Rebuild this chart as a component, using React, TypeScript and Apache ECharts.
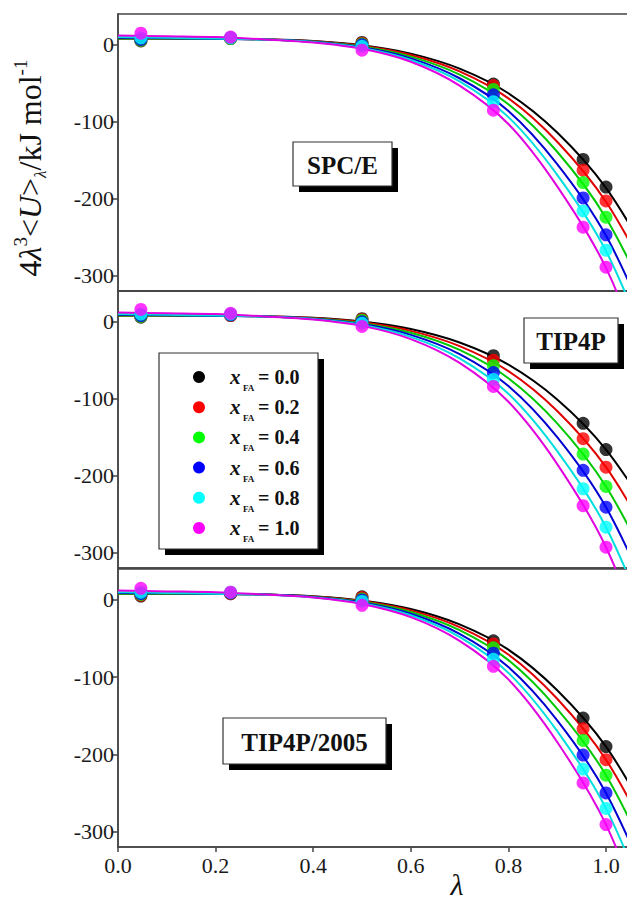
import React, { useEffect, useRef } from "react";
import * as echarts from "echarts";

const lambdaPts = [0.04691, 0.23077, 0.5, 0.76923, 0.95309, 1.0];
const lambdaFit = [0, 0.1, 0.2, 0.3, 0.4, 0.5, 0.6, 0.7, 0.8, 0.9, 1.0, 1.1];
const xTicks = [0, 0.2, 0.4, 0.6, 0.8, 1.0];
const yTicks = [-300, -200, -100, 0];
const fractions = ["0.0", "0.2", "0.4", "0.6", "0.8", "1.0"];
const panelNames = ["SPC/E", "TIP4P", "TIP4P/2005"];

const pointColors = ["#000000", "#ff0000", "#00ff00", "#0000ff", "#00ffff", "#ff00ff"];
const lineColors = ["#000000", "#e00000", "#00c800", "#0000d0", "#00dede", "#e000e0"];

// SPC/E
const spcePts = [
  [5, 8, 3, -51, -149, -185],
  [6, 8, 2, -53, -163, -203],
  [6, 8, 1, -58, -179, -224],
  [7, 9, 0, -65, -199, -247],
  [9, 9, -2, -74, -216, -267],
  [15, 10, -7, -85, -237, -289],
];
const spceFit = [
  [8, 8, 7.9, 7.1, 4.9, -0.6, -11.5, -31, -63, -114, -186, -290],
  [8, 8, 7.8, 7.1, 4.6, -1.4, -13.3, -34.6, -69.6, -126, -204, -317],
  [8, 8, 7.8, 7.0, 4.2, -2.3, -15.4, -38.8, -77.3, -139, -225, -350],
  [9, 8.5, 7.8, 6.9, 3.9, -3.3, -17.7, -43.5, -86, -155, -248, -385],
  [10, 9, 8, 6.8, 3.5, -4.2, -19.7, -47.5, -94, -169, -268, -416],
  [12, 11, 10, 7, 3, -5.2, -22, -53, -103, -184, -290, -449],
];

// TIP4P
const tip4pPts = [
  [6, 8, 4, -44, -132, -166],
  [7, 8, 3, -50, -152, -189],
  [7, 9, 2, -57, -172, -214],
  [8, 9, 0, -66, -193, -241],
  [10, 10, -2, -75, -217, -267],
  [16, 11, -6, -84, -239, -293],
];
const tip4pFit = [
  [8, 8, 7.9, 7.2, 5.2, 0.3, -9.5, -27, -55.7, -101, -166, -259],
  [8, 8, 7.9, 7.1, 4.8, -0.7, -11.8, -31.6, -64.1, -116, -189, -294],
  [8, 8, 7.8, 7.0, 4.4, -1.8, -14.3, -36.6, -73.3, -132, -214, -333],
  [9, 8.5, 7.8, 6.9, 4.0, -3.0, -17, -42, -83.5, -150, -241, -374],
  [10, 9, 8, 6.8, 3.5, -4.2, -19.6, -47.5, -93.5, -168, -267, -414],
  [12, 11, 10, 7, 3, -5.3, -22.5, -53.5, -104, -185, -293, -454],
];

// TIP4P/2005
const tip4p2005Pts = [
  [5, 8, 4, -53, -153, -190],
  [6, 8, 3, -57, -167, -207],
  [7, 9, 1, -62, -182, -227],
  [8, 9, 0, -69, -201, -250],
  [10, 10, -2, -77, -219, -270],
  [15, 10, -7, -86, -237, -291],
];
const tip4p2005Fit = [
  [8, 8, 7.9, 7.1, 4.8, -0.8, -11.9, -31.8, -64.5, -117, -190, -296],
  [8, 8, 7.8, 7.0, 4.5, -1.5, -13.6, -35.2, -70.7, -128, -207, -322],
  [8, 8, 7.8, 7.0, 4.2, -2.4, -15.6, -39.2, -78, -141, -227, -353],
  [9, 8.5, 7.8, 6.9, 3.8, -3.4, -17.9, -43.9, -87, -156, -250, -388],
  [10, 9, 8, 6.8, 3.5, -4.3, -19.9, -48, -94.5, -170, -270, -419],
  [12, 11, 10, 7, 3.2, -5.2, -22.3, -53, -103, -184, -291, -451],
];

const panelPts = [spcePts, tip4pPts, tip4p2005Pts];
const panelFit = [spceFit, tip4pFit, tip4p2005Fit];

const FONT = "Liberation Serif";
const AXIS_COLOR = "#444";

export default function App() {
  const ref = useRef<HTMLDivElement>(null);

  useEffect(() => {
    if (!ref.current) return;
    const chart = echarts.init(ref.current, null, { renderer: "svg" });

    const grids = [
      { left: 118, width: 536.8, top: 14, height: 277 },
      { left: 118, width: 536.8, top: 291, height: 277 },
      { left: 118, width: 536.8, top: 569, height: 278 },
    ].map((g) => ({ ...g, show: true, borderColor: AXIS_COLOR, borderWidth: 1.5 }));

    const xAxes = [0, 1, 2].map((i) => ({
      type: "value",
      gridIndex: i,
      min: 0,
      max: 1.1,
      axisLine: { show: true, onZero: false, lineStyle: { color: AXIS_COLOR, width: 1.5 } },
      axisTick: {
        show: i === 2,
        length: 5,
        customValues: xTicks,
        lineStyle: { color: AXIS_COLOR, width: 1.5 },
      },
      axisLabel: {
        show: i === 2,
        customValues: xTicks,
        formatter: (v: number) => v.toFixed(1),
        fontFamily: FONT,
        fontSize: 22,
        color: "#1a1a1a",
        margin: 7,
      },
      splitLine: { show: false },
    }));

    const yAxes = [0, 1, 2].map((i) => ({
      type: "value",
      gridIndex: i,
      min: -320,
      max: 40,
      axisLine: { show: true, onZero: false, lineStyle: { color: AXIS_COLOR, width: 1.5 } },
      axisTick: {
        show: true,
        length: 6,
        customValues: yTicks,
        lineStyle: { color: AXIS_COLOR, width: 1.5 },
      },
      axisLabel: {
        customValues: yTicks,
        fontFamily: FONT,
        fontSize: 22,
        color: "#1a1a1a",
        margin: 4,
      },
      splitLine: { show: false },
    }));

    const series: any[] = [];
    for (let p = 0; p < 3; p++) {
      for (let s = 0; s < 6; s++) {
        series.push({
          type: "line",
          name: `fit-${p}-${s}`,
          xAxisIndex: p,
          yAxisIndex: p,
          data: lambdaFit.map((x, k) => [x, panelFit[p][s][k]]),
          smooth: 0.3,
          showSymbol: false,
          symbol: "none",
          lineStyle: { color: lineColors[s], width: 2 },
          z: 2,
          silent: true,
        });
      }
      for (let s = 0; s < 6; s++) {
        series.push({
          type: "scatter",
          name: `x=${fractions[s]}`,
          xAxisIndex: p,
          yAxisIndex: p,
          data: lambdaPts.map((x, k) => [x, panelPts[p][s][k]]),
          symbol: "circle",
          symbolSize: 13,
          itemStyle: { color: pointColors[s] },
          z: 3,
          silent: true,
        });
      }
    }

    const labelBox = (x: number, y: number, w: number, h: number, text: string) => [
      { type: "rect", shape: { x: x + 6, y: y + 6, width: w, height: h }, style: { fill: "#000" }, z: 10 },
      {
        type: "rect",
        shape: { x, y, width: w, height: h },
        style: { fill: "#fff", stroke: "#333", lineWidth: 1.2 },
        z: 11,
      },
      {
        type: "text",
        x: x + w / 2,
        y: y + h / 2 + 1,
        style: {
          text,
          fontFamily: FONT,
          fontSize: 25,
          fontWeight: "bold",
          fill: "#111",
          align: "center",
          verticalAlign: "middle",
        },
        z: 12,
      },
    ];

    const legendItems: any[] = [
      { type: "rect", shape: { x: 165, y: 359, width: 159, height: 196 }, style: { fill: "#000" }, z: 10 },
      {
        type: "rect",
        shape: { x: 159, y: 353, width: 159, height: 196 },
        style: { fill: "#fff", stroke: "#333", lineWidth: 1.2 },
        z: 11,
      },
    ];
    fractions.forEach((f, i) => {
      const cy = 377 + i * 30.2;
      legendItems.push(
        { type: "circle", shape: { cx: 199, cy, r: 6 }, style: { fill: pointColors[i] }, z: 12 },
        {
          type: "text",
          x: 230,
          y: cy,
          style: {
            text: "x",
            fontFamily: FONT,
            fontSize: 21,
            fontStyle: "italic",
            fontWeight: "bold",
            fill: "#111",
            align: "left",
            verticalAlign: "middle",
          },
          z: 12,
        },
        {
          type: "text",
          x: 243,
          y: cy + 11,
          style: {
            text: "FA",
            fontFamily: FONT,
            fontSize: 9,
            fontWeight: "bold",
            fill: "#111",
            align: "left",
            verticalAlign: "middle",
          },
          z: 12,
        },
        {
          type: "text",
          x: 258,
          y: cy,
          style: {
            text: "= " + f,
            fontFamily: FONT,
            fontSize: 20,
            fontWeight: "bold",
            fill: "#111",
            align: "left",
            verticalAlign: "middle",
          },
          z: 12,
        }
      );
    });

    const graphic: any[] = [
      ...labelBox(293, 142, 99, 44, panelNames[0]),
      ...labelBox(524, 318, 94, 45, panelNames[1]),
      ...labelBox(223, 718, 163, 46, panelNames[2]),
      ...legendItems,
      {
        type: "text",
        x: 30,
        y: 168,
        rotation: Math.PI / 2,
        style: {
          text: "{n|4}{i|λ}{sup|3}{n|<}{i|U}{n|>}{sub|λ}{n|/kJ mol}{sup|-1}",
          fontFamily: FONT,
          align: "center",
          verticalAlign: "middle",
          fill: "#111",
          rich: {
            n: { fontFamily: FONT, fontSize: 32, lineHeight: 38, fill: "#111" },
            i: { fontFamily: FONT, fontSize: 32, lineHeight: 38, fontStyle: "italic", fill: "#111" },
            sup: { fontFamily: FONT, fontSize: 19, verticalAlign: "top", fill: "#111" },
            sub: { fontFamily: FONT, fontSize: 17, fontStyle: "italic", verticalAlign: "bottom", fill: "#111" },
          },
        },
        z: 12,
      },
      {
        type: "text",
        x: 457,
        y: 884,
        style: {
          text: "λ",
          fontFamily: FONT,
          fontSize: 30,
          fontStyle: "italic",
          fill: "#111",
          align: "center",
          verticalAlign: "middle",
        },
        z: 12,
      },
    ];

    chart.setOption({
      animation: false,
      backgroundColor: "#fff",
      grid: grids,
      xAxis: xAxes,
      yAxis: yAxes,
      series,
      graphic,
    });

    return () => chart.dispose();
  }, []);

  return (
    <div
      style={{
        position: "absolute",
        left: 0,
        top: 0,
        width: 627,
        height: 901,
        overflow: "hidden",
        background: "#fff",
      }}
    >
      <div ref={ref} style={{ width: 700, height: 901 }} />
    </div>
  );
}
